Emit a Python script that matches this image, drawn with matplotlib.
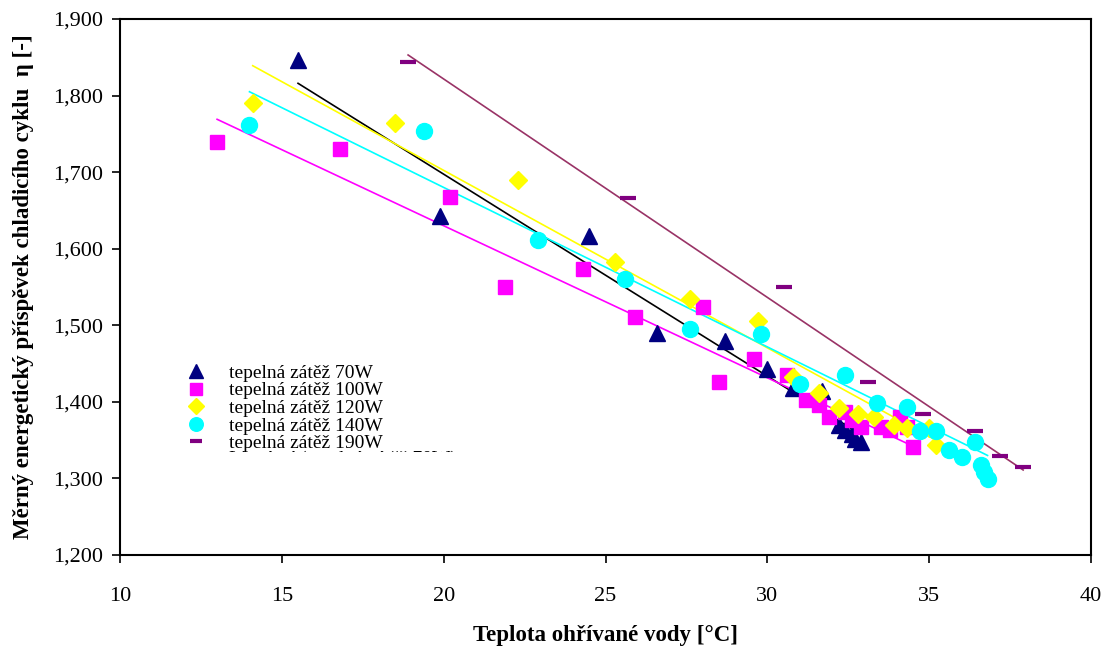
import matplotlib
matplotlib.use("Agg")
import matplotlib.pyplot as plt
from matplotlib.ticker import FuncFormatter, MultipleLocator
from matplotlib.transforms import Bbox, TransformedBbox

# ---------------------------------------------------------------------------
# Data
# ---------------------------------------------------------------------------
x_70 = [15.5, 19.9, 24.5, 26.6, 28.7, 30.0, 30.8, 31.7, 32.2, 32.4, 32.6, 32.7, 32.9]
y_70 = [1.846, 1.643, 1.617, 1.490, 1.479, 1.443, 1.418, 1.414, 1.370, 1.363, 1.358, 1.352, 1.348]

x_100 = [13.0, 16.8, 20.2, 21.9, 24.3, 25.9, 28.0, 28.5, 29.6, 30.6, 31.2, 31.6, 31.9,
         32.4, 32.6, 32.9, 33.5, 33.8, 34.1, 34.3, 34.5]
y_100 = [1.739, 1.730, 1.668, 1.550, 1.573, 1.511, 1.524, 1.426, 1.456, 1.435, 1.402,
         1.396, 1.380, 1.387, 1.376, 1.367, 1.367, 1.363, 1.380, 1.367, 1.341]

x_120 = [14.1, 18.5, 22.3, 25.3, 27.6, 29.7, 30.8, 31.6, 32.2, 32.8, 33.3, 33.9, 34.3,
         35.0, 35.2]
y_120 = [1.790, 1.764, 1.690, 1.583, 1.534, 1.506, 1.432, 1.412, 1.392, 1.384, 1.380,
         1.370, 1.366, 1.366, 1.344]

x_140 = [14.0, 19.4, 22.9, 25.6, 27.6, 29.8, 31.0, 32.4, 33.4, 34.3, 34.7, 35.2, 35.6,
         36.0, 36.4, 36.6, 36.7, 36.8]
y_140 = [1.762, 1.754, 1.611, 1.560, 1.495, 1.489, 1.423, 1.435, 1.399, 1.393, 1.362,
         1.362, 1.337, 1.328, 1.348, 1.318, 1.308, 1.299]

x_190 = [18.9, 25.7, 30.5, 33.1, 34.8, 36.4, 37.2, 37.9]
y_190 = [1.844, 1.666, 1.550, 1.426, 1.384, 1.362, 1.329, 1.315]

# Excel linear trend lines: value at the first and last x of each series
trend_70 = [1.816, 1.357]
trend_100 = [1.769, 1.342]
trend_120 = [1.839, 1.350]
trend_140 = [1.805, 1.330]
trend_190 = [1.853, 1.311]

labels = ["tepelná zátěž 70W", "tepelná zátěž 100W", "tepelná zátěž 120W",
          "tepelná zátěž 140W", "tepelná zátěž 190W"]

# ---------------------------------------------------------------------------
plt.rcParams["font.family"] = ["Liberation Serif", "DejaVu Serif"]

fig = plt.figure(figsize=(11.1, 6.46), dpi=100)
ax = fig.add_axes([0.1081, 0.1409, 0.8749, 0.8297])

series = [
    (x_70, y_70, trend_70, dict(marker="^", ms=12, color="#000080"), "black"),
    (x_100, y_100, trend_100, dict(marker="s", ms=10.5, color="#FF00FF"), "#FF00FF"),
    (x_120, y_120, trend_120, dict(marker="D", ms=9, color="#FFFF00"), "#FFFF00"),
    (x_140, y_140, trend_140, dict(marker="o", ms=11.5, color="#00FFFF"), "#00FFFF"),
    (x_190, y_190, trend_190, dict(marker="_", ms=11, mew=3, color="#800080"), "#993366"),
]

# trend lines first, markers above
for xs, ys, tr, st, lc in series:
    ax.plot([min(xs), max(xs)], tr, color=lc, lw=1.2, zorder=2)

handles = []
for (xs, ys, tr, st, lc), lab in zip(series, labels):
    h, = ax.plot(xs, ys, linestyle="none", mec=st["color"], label=lab, zorder=3, **st)
    handles.append(h)

ax.set_xlim(10, 40)
ax.set_ylim(1.2, 1.9)
ax.xaxis.set_major_locator(MultipleLocator(5))
ax.yaxis.set_major_locator(MultipleLocator(0.1))
ax.yaxis.set_major_formatter(FuncFormatter(lambda v, p: f"{v:.3f}".replace(".", ",")))
ax.tick_params(direction="out", length=6, width=1.2, labelsize=16)
ax.tick_params(axis="y", pad=6)
ax.tick_params(axis="x", pad=17)
for s in ax.spines.values():
    s.set_linewidth(1.5)

ax.set_xlabel("Teplota ohřívané vody [°C]", fontsize=16.5, fontweight="bold", labelpad=14)
ax.set_ylabel("Měrný energetický příspěvek chladicího cyklu  η [-]", fontsize=16.5,
              fontweight="bold", labelpad=14)

leg = ax.legend(handles=handles, loc="upper left", bbox_to_anchor=(0.058, 0.374),
                frameon=False, fontsize=14, handlelength=1.0, handletextpad=1.2,
                labelspacing=0.0, borderpad=0, markerscale=0.85)

# sixth legend row (trend line entry) is cut off in the original
t = fig.text(229 / 1110, 1 - 459 / 646, "Lineární (tepelná zátěž 70W)", fontsize=14,
             va="center", clip_on=True)
t.set_clip_box(TransformedBbox(Bbox.from_extents(0, 1 - 452 / 646, 1, 1), fig.transFigure))

fig.savefig("out.png", dpi=100)
